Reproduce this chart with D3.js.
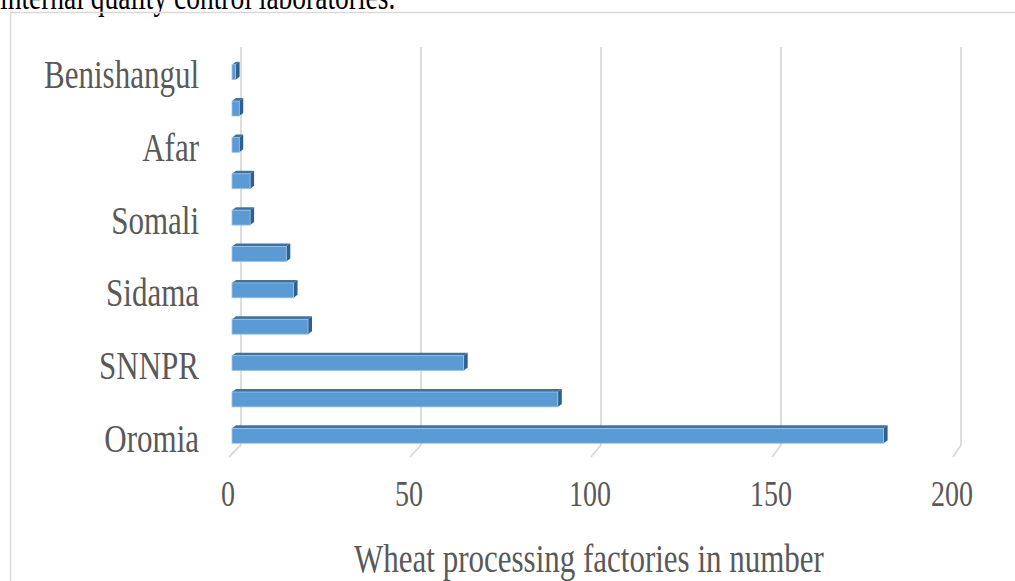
<!DOCTYPE html>
<html>
<head>
<meta charset="utf-8">
<script src="https://cdn.jsdelivr.net/npm/d3@7"></script>
<style>
  html, body { margin: 0; padding: 0; background: #fff; }
  svg { display: block; }
</style>
</head>
<body>
<svg id="chart" width="1015" height="581"></svg>
<script>
// Regions, top to bottom as drawn
const regions = ["Benishangul", "Harari", "Afar", "Dire Dawa", "Somali", "Tigray",
                 "Sidama", "Addis Ababa", "SNNPR", "Amhara", "Oromia"];
// Wheat processing factories per region
const factories = [1, 2, 2, 5, 5, 15, 17, 21, 64, 90, 180];
// Only every other region name is printed on the axis
const shownLabels = ["Benishangul", "Afar", "Somali", "Sidama", "SNNPR", "Oromia"];
const xTicks = [0, 50, 100, 150, 200];
const xTitle = "Wheat processing factories in number";
const captionTail = "internal quality control laboratories.";

const svg = d3.select("#chart");
const serif = "'Liberation Serif', 'Times New Roman', serif";
const textColor = "#595959";
const stretch = 1.3; // text in the figure is drawn taller than its width

function placeText(sel, x, yPos) {
  return sel.attr("transform", `translate(${x},${yPos}) scale(1,${stretch})`);
}

// caption text running above the chart frame
placeText(svg.append("text"), 0, 9)
  .attr("font-family", serif).attr("font-size", 27.5)
  .attr("fill", "#000")
  .text(captionTail);

// chart frame
svg.append("rect")
  .attr("x", 10.5).attr("y", 12.5)
  .attr("width", 1010).attr("height", 580)
  .attr("fill", "none").attr("stroke", "#d9d9d9").attr("stroke-width", 1.5);

// front plane (bars) and back wall (gridlines) of the 3-D plot area
const xFront = d3.scaleLinear().domain([0, 200]).range([232, 956]);
const xBack = d3.scaleLinear().domain([0, 200]).range([241, 961]);
const y = d3.scaleBand().domain(regions).range([54, 454])
  .paddingInner(0.59).paddingOuter(0.295);

const gridTop = 47, gridBottom = 445, floorFront = 457;

// gridlines with their floor segments
const grid = svg.append("g");
xTicks.forEach(t => {
  grid.append("path")
    .attr("d", `M${xBack(t)},${gridTop} L${xBack(t)},${gridBottom} L${xFront(t) - 3},${floorFront}`)
    .attr("fill", "none").attr("stroke", "#d9d9d9").attr("stroke-width", 1.8);
});

// 3-D bars: front face, top face, side face
const dx = 4, dy = 3;
const bars = svg.append("g").selectAll("g")
  .data(regions.map((r, i) => ({ region: r, value: factories[i] })))
  .join("g");

bars.append("path") // top face
  .attr("d", d => {
    const x0 = xFront(0), x1 = xFront(d.value), yt = y(d.region);
    return `M${x0},${yt} L${x0 + dx},${yt - dy} L${x1 + dx},${yt - dy} L${x1},${yt} Z`;
  })
  .attr("fill", "#41719c");

bars.append("path") // side face
  .attr("d", d => {
    const x1 = xFront(d.value), yt = y(d.region), h = y.bandwidth();
    return `M${x1},${yt} L${x1 + dx},${yt - dy} L${x1 + dx},${yt + h - dy} L${x1},${yt + h} Z`;
  })
  .attr("fill", "#2e5f8e");

bars.append("rect") // front face
  .attr("x", xFront(0))
  .attr("y", d => y(d.region))
  .attr("width", d => xFront(d.value) - xFront(0))
  .attr("height", y.bandwidth())
  .attr("fill", "#5b9bd5")
  .attr("stroke", "#9dc3e6").attr("stroke-width", 0.8);

// category labels
svg.append("g").selectAll("text")
  .data(shownLabels)
  .join("text")
  .each(function (d) { placeText(d3.select(this), 199, y(d) + y.bandwidth() / 2 + 2); })
  .attr("dy", "0.35em")
  .attr("text-anchor", "end")
  .attr("font-family", serif).attr("font-size", 31)
  .attr("fill", textColor)
  .text(d => d);

// value axis labels
svg.append("g").selectAll("text")
  .data(xTicks)
  .join("text")
  .each(function (d) { placeText(d3.select(this), xFront(d) - 4, 493); })
  .attr("dy", "0.35em")
  .attr("text-anchor", "middle")
  .attr("font-family", serif).attr("font-size", 28)
  .attr("fill", textColor)
  .text(d => d);

// axis title
placeText(svg.append("text"), 589, 558)
  .attr("dy", "0.35em")
  .attr("text-anchor", "middle")
  .attr("font-family", serif).attr("font-size", 31)
  .attr("fill", textColor)
  .text(xTitle);
</script>
</body>
</html>
